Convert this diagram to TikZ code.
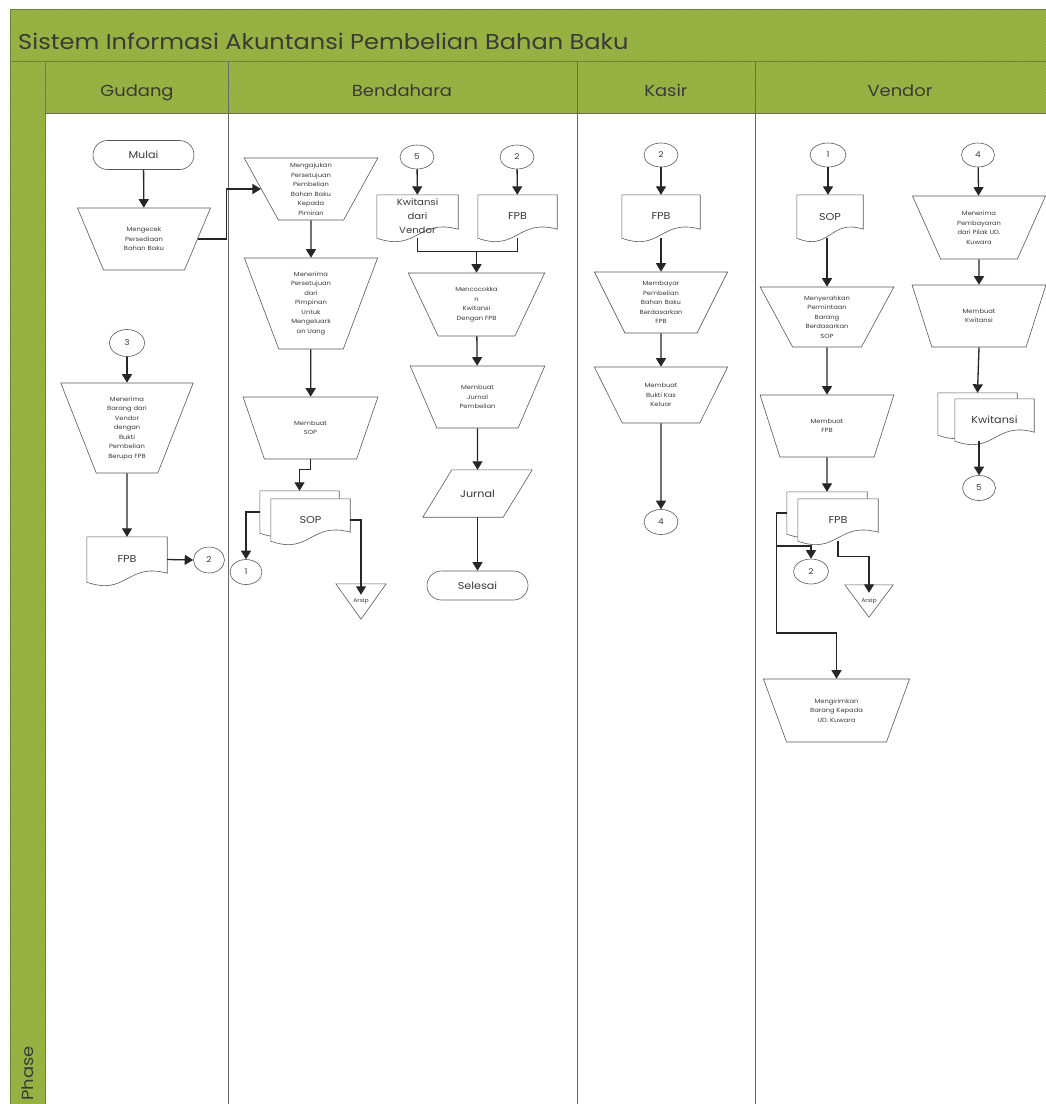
\documentclass[tikz,border=0pt]{standalone}
\usepackage{fontspec}
\setmainfont{Poppins}[FakeStretch=1.12]
\usetikzlibrary{shapes.geometric,shapes.misc,arrows.meta,calc,patterns}
\pgfdeclarelayer{lanes}
\pgfdeclarelayer{shapesbg}
\pgfsetlayers{lanes,shapesbg,main}
\definecolor{lanegreen}{HTML}{92AC3E}
\definecolor{stripe}{HTML}{A2BB50}
\definecolor{frame}{HTML}{6E8530}
\definecolor{ink}{HTML}{3A3A3A}
\definecolor{lanegray}{HTML}{6A6A60}
\tikzset{
  shp/.style={draw=ink!85, line width=0.6pt, fill=white},
  txt/.style={text=ink, font=\fontsize{6}{9.5}\selectfont, align=center, inner sep=0pt},
  mo/.style n args={3}{shp, txt, trapezium, shape border rotate=180, trapezium stretches=true,
     minimum width=#1pt, minimum height=#2pt,
     /utils/exec={\pgfmathsetmacro\trapang{atan(2*#2/(#1-#3))}},
     trapezium left angle=\trapang, trapezium right angle=\trapang},
  term/.style={shp, rounded rectangle, minimum width=101pt, minimum height=29pt, inner sep=0pt, text=ink, font=\fontsize{10}{12}\selectfont},
  conn/.style={shp, ellipse, minimum width=34pt, minimum height=25pt, inner sep=0pt, text=ink, font=\fontsize{8}{10}\selectfont},
  docbox/.style 2 args={minimum width=#1pt, minimum height=#2pt, inner sep=0pt, text=ink, font=\fontsize{10}{13}\selectfont, align=center},
  arsipbox/.style 2 args={minimum width=#1pt, minimum height=#2pt, inner sep=0pt, text=ink, font=\fontsize{5.5}{7}\selectfont},
  arr/.style={line width=1.3pt, draw=black!85, -{Triangle[length=8.5pt,width=10pt]}},
  ln/.style={line width=1.3pt, draw=black!85},
  framel/.style={draw=frame, line width=0.8pt},
  laneline/.style={draw=lanegray, line width=0.9pt},
  hdr/.style={text=ink, font=\fontsize{16}{18}\selectfont, inner sep=0pt},
  ttl/.style={text=ink, font=\fontsize{21.5}{24}\selectfont, inner sep=0pt},
}
\newcommand{\docoutline}[1]{%
  \draw[shp] (#1.south west) -- (#1.north west) -- (#1.north east) -- ($(#1.south east)+(0,-9)$)
    .. controls ($(#1.south)+(0,-20)$) and ($(#1.south)+(0,14)$) .. (#1.south west) -- cycle;}
\newcommand{\arsipoutline}[1]{%
  \draw[shp] (#1.north west) -- (#1.north east) -- (#1.south) -- cycle;}
\begin{document}
\begin{tikzpicture}[x=1pt,y=-1pt]
\useasboundingbox (0,0) rectangle (1046,1104);
\begin{pgfonlayer}{lanes}
  \fill[white] (0,0) rectangle (1046,1104);
  \fill[lanegreen] (10,9) rectangle (1046,113);
  \fill[lanegreen] (10,113) rectangle (45,1104);
  \fill[pattern=north west lines, pattern color=stripe] (10,9) rectangle (1046,113);
  \fill[pattern=north west lines, pattern color=stripe] (10,113) rectangle (45,1104);
  \draw[framel] (10,1104) -- (10,9) -- (1046,9);
  \draw[framel] (10,61) -- (1046,61);
  \draw[framel] (45,61) -- (45,1104);
  \draw[laneline] (45,113) -- (1046,113);
  \foreach \x in {228,577,755} \draw[laneline] (\x,61) -- (\x,1104);
\end{pgfonlayer}

% titles
\node[ttl, anchor=west] (title) at (18,41) {Sistem Informasi Akuntansi Pembelian Bahan Baku};
\node[hdr, anchor=base] (hGudang) at (137,96) {Gudang};
\node[hdr, anchor=base] (hBendahara) at (402,96) {Bendahara};
\node[hdr, anchor=base] (hKasir) at (666,96) {Kasir};
\node[hdr, anchor=base] (hVendor) at (900,96) {Vendor};
\node[hdr, rotate=90, anchor=west] (phase) at (28,1101) {Phase};

% Gudang
\node[term] (mulai) at (143.5,155) {Mulai};
\node[mo={134}{62}{66}] (cek) at (144,239) {Mengecek\\Persediaan\\Bahan Baku};
\node[conn, minimum width=35pt, minimum height=27pt] (c3) at (127,343) {3};
\node[mo={133}{90}{68}] (terimaBrg) at (127,428) {Menerima\\Barang dari\\Vendor\\dengan\\Bukti\\Pembelian\\Berupa FPB};
\node[docbox={80}{45}] (fpbG) at (127,559.5) {FPB};
\node[conn, minimum width=31pt, minimum height=26pt] (c2g) at (209,560) {2};

% Bendahara
\node[mo={134}{62}{82}] (ajukan) at (311,189) {Mengajukan\\Persetujuan\\Pembelian\\Bahan Baku\\Kepada\\Pimiran};
\node[mo={134}{91}{73}] (terimaSetuju) at (311,303.5) {Menerima\\Persetujuan\\dari\\Pimpinan\\Untuk\\Mengeluark\\an Uang};
\node[mo={135}{62}{68}] (buatSOP) at (310.5,428) {Membuat\\SOP};
\node[docbox={79}{42}] (sopBk) at (299.5,512) {};
\node[docbox={79}{42}] (sopB) at (310.5,520) {SOP};
\node[conn, minimum width=32pt] (c1b) at (246,572) {1};
\node[arsipbox={50}{35}] (arsipB) at (361,601.5) {Arsip};
\node[conn, minimum height=24pt] (c5b) at (417,157) {5};
\node[conn, minimum height=24pt] (c2b) at (517,157) {2};
\node[docbox={81}{43}, font=\fontsize{9}{14}\selectfont] (kwDoc) at (417.5,216.5) {Kwitansi\\dari\\Vendor};
\node[docbox={79}{43}] (fpbB) at (517.5,216.5) {FPB};
\node[mo={137}{63}{77}] (cocok) at (476.5,304.5) {Mencocokka\\n\\Kwitansi\\Dengan FPB};
\node[mo={135}{62}{73}] (jurnalBuat) at (477.5,397) {Membuat\\Jurnal\\Pembelian};
\node[docbox={109}{47}] (jurnal) at (477.5,493.5) {Jurnal};
\node[term] (selesai) at (477.5,585.5) {Selesai};

% Kasir
\node[conn, minimum height=24pt] (c2k) at (661,155) {2};
\node[docbox={78}{43}] (fpbK) at (661,216.5) {FPB};
\node[mo={134}{61}{82}] (bayar) at (661,302.5) {Membayar\\Pembelian\\Bahan Baku\\Berdasarkan\\FPB};
\node[mo={134}{56}{78}] (buktiKas) at (661,395) {Membuat\\Bukti Kas\\Keluar};
\node[conn] (c4k) at (661,522) {4};

% Vendor
\node[conn, minimum width=36pt, minimum height=24pt] (c1v) at (828,155) {1};
\node[docbox={66}{43}] (sopV) at (830,216.5) {SOP};
\node[mo={134}{60}{73}] (serah) at (827,317) {Menyerahkan\\Permintaan\\Barang\\Berdasarkan\\SOP};
\node[mo={134}{62}{73}] (buatFPB) at (827,426) {Membuat\\FPB};
\node[docbox={80}{42}] (fpbVk) at (827,513) {};
\node[docbox={80}{42}] (fpbV) at (838,520) {FPB};
\node[conn, minimum width=35pt] (c2v) at (811,571.5) {2};
\node[arsipbox={48}{32}] (arsipV) at (869,601) {Arsip};
\node[mo={147}{63}{82}] (kirim) at (836.5,710.5) {Mengirimkan\\Barang Kepada\\UD. Kuwara};
\node[conn, minimum width=33pt, minimum height=24pt] (c4v) at (978,155) {4};
\node[mo={134}{63}{73}] (terimaBayar) at (979,227.5) {Menerima\\Pembayaran\\dari Pilak UD.\\Kuwara};
\node[mo={134}{62}{73}] (buatKw) at (979,316) {Membuat\\Kwitansi};
\node[docbox={79}{42}] (kwVk) at (977.5,414) {};
\node[docbox={79}{42}] (kwV) at (994.5,420) {Kwitansi};
\node[conn, minimum width=33pt] (c5v) at (979,488) {5};

% outlines drawn behind the texts
\begin{pgfonlayer}{shapesbg}
  \docoutline{fpbG}
  \docoutline{sopBk}
  \docoutline{sopB}
  \arsipoutline{arsipB}
  \docoutline{kwDoc}
  \docoutline{fpbB}
  \draw[shp] ($(jurnal.north west)+(29,0)$) -- (jurnal.north east) -- ($(jurnal.south east)+(-29,0)$) -- (jurnal.south west) -- cycle;
  \docoutline{fpbK}
  \docoutline{sopV}
  \docoutline{fpbVk}
  \docoutline{fpbV}
  \arsipoutline{arsipV}
  \docoutline{kwVk}
  \docoutline{kwV}
\end{pgfonlayer}

% connectors: Gudang
\draw[arr] (mulai) -- (cek);
\draw[arr] (cek.east) -- ++(28.5,0) |- (ajukan.west);
\draw[arr] (c3) -- (terimaBrg);
\draw[arr] (terimaBrg.south) -- (fpbG.north);
\draw[arr] (fpbG.east) -- (c2g.west);

% Bendahara
\draw[arr] (ajukan) -- (terimaSetuju);
\draw[arr] (terimaSetuju) -- (buatSOP);
\draw[arr] (buatSOP.south) -- ++(0,10) -| (sopBk.north);
\draw[arr] (sopBk.west) -| (c1b.north);
\draw[arr] (sopB.east) -| ($(arsipB.north)+(0,11)$);
\draw[arr] (c5b) -- (kwDoc);
\draw[arr] (c2b) -- (fpbB);
\draw[ln] (kwDoc.south) -- ++(0,13) -| (fpbB.south);
\path (kwDoc.south) ++(0,13) coordinate (kwb);
\draw[arr] (cocok.north |- kwb) -- (cocok.north);
\draw[arr] (cocok) -- (jurnalBuat);
\draw[arr] (jurnalBuat) -- (jurnal);
\draw[arr] (jurnal) -- (selesai);

% Kasir
\draw[arr] (c2k) -- (fpbK);
\draw[arr] (fpbK) -- (bayar);
\draw[arr] (bayar) -- (buktiKas);
\draw[arr] (buktiKas) -- (c4k);

% Vendor
\draw[arr] (c1v.south) -- (c1v.south |- sopV.north);
\draw[arr] (serah.north |- sopV.south) -- (serah.north);
\draw[arr] (serah) -- (buatFPB);
\draw[arr] (buatFPB.south) -- (fpbVk.north);
\draw[arr] (fpbVk.west) -- ++(-10,0) -- ++(0,120) -| (kirim.north);
\draw[arr] ($(fpbVk.west)+(-10,33)$) -| (c2v.north);
\draw[arr] (fpbV.south) -- ++(0,15) -| ($(arsipV.north)+(0,8)$);
\draw[arr] (c4v) -- (terimaBayar);
\draw[arr] (terimaBayar) -- (buatKw);
\draw[arr] (buatKw.south) -- (kwVk.north);
\draw[arr] (c5v.north |- kwV.south) -- (c5v.north);
\end{tikzpicture}
\end{document}
